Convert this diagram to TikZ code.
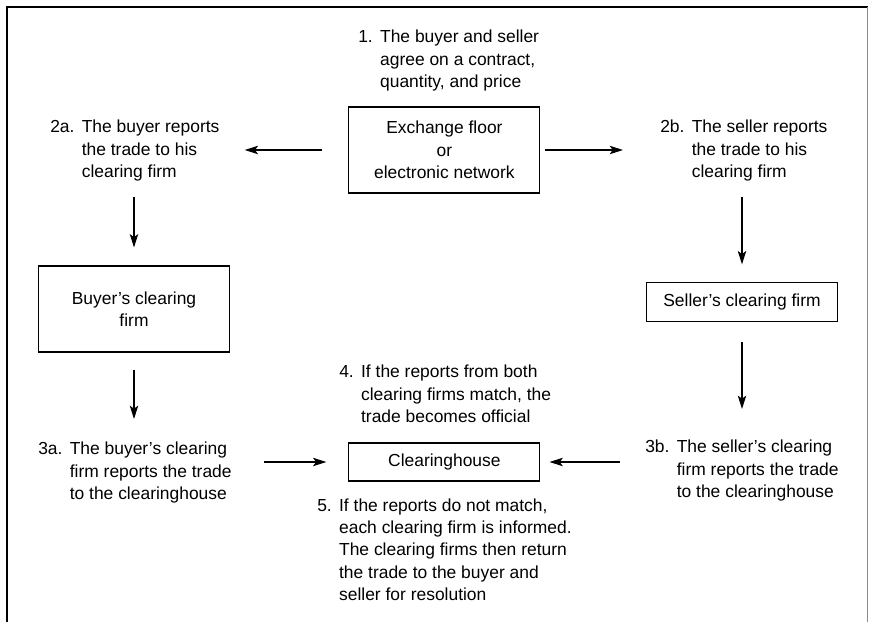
\documentclass[tikz,border=0pt]{standalone}
\usepackage{fontspec}
\setmainfont{Liberation Sans}
\usetikzlibrary{arrows.meta}

\newcommand{\numitem}[2]{\begin{tabular}[t]{@{}l@{\hspace{0.42em}}l@{}}#1 & \begin{tabular}[t]{@{}l@{}}#2\end{tabular}\end{tabular}}

\begin{document}
\begin{tikzpicture}[font=\fontsize{12.4}{16}\selectfont,
    box/.style={draw, line width=0.8pt, inner sep=0pt, align=center, minimum width=4.775cm},
    note/.style={inner sep=0pt, anchor=base west},
    arr/.style={-{Stealth[length=9.5pt, width=6pt, inset=2.2pt]}, line width=0.75pt}]
        \useasboundingbox (0,0) rectangle (21.725,15.55);
        % frame
        \draw[line width=1.3pt] (0.175,0) |- (21.69,15.375);
        \draw[line width=0.8pt, black!45] (21.69,15.375) -- (21.69,0);
        % boxes
        \node[box, minimum height=2.15cm] (exch) at (11.11,11.8) {Exchange floor\\or\\electronic network};
        \node[box, minimum height=2.15cm] (buyercf) at (3.35,7.825) {Buyer's clearing\\firm};
        \node[box, minimum height=0.975cm] (sellercf) at (18.55,7.99) {Seller's clearing firm};
        \node[box, minimum height=0.95cm] (ch) at (11.11,4.0) {Clearinghouse};
        % numbered notes
        \node[note] (n1) at (8.95,14.475) {\numitem{1.}{The buyer and seller\\agree on a contract,\\quantity, and price}};
        \node[note] (n2a) at (1.25,12.225) {\numitem{2a.}{The buyer reports\\the trade to his\\clearing firm}};
        \node[note] (n2b) at (16.5,12.225) {\numitem{2b.}{The seller reports\\the trade to his\\clearing firm}};
        \node[note] (n3a) at (0.95,4.175) {\numitem{3a.}{The buyer's clearing\\firm reports the trade\\to the clearinghouse}};
        \node[note] (n3b) at (16.125,4.225) {\numitem{3b.}{The seller's clearing\\firm reports the trade\\to the clearinghouse}};
        \node[note] (n4) at (8.475,6.1) {\numitem{4.}{If the reports from both\\clearing firms match, the\\trade becomes official}};
        \node[note] (n5) at (7.925,2.775) {\numitem{5.}{If the reports do not match,\\each clearing firm is informed.\\The clearing firms then return\\the trade to the buyer and\\seller for resolution}};
        % arrows
        \draw[arr, shorten <=0.65cm, shorten >=0.625cm] (exch.west) -- (exch.west -| n2a.east);
        \draw[arr, shorten <=0.125cm, shorten >=0.925cm] (exch.east) -- (exch.east -| n2b.west);
        \draw[arr, shorten <=0.3cm, shorten >=0.45cm] (n2a.south -| buyercf.north) -- (buyercf.north);
        \draw[arr, shorten <=0.425cm, shorten >=0.5cm] (buyercf.south) -- (buyercf.south |- n3a.north);
        \draw[arr, shorten <=0.3cm, shorten >=0.45cm] (n2b.south -| sellercf.north) -- (sellercf.north);
        \draw[arr, shorten <=0.5cm, shorten >=0.7cm] (sellercf.south) -- (sellercf.south |- n3b.north);
        \draw[arr, shorten <=0.8cm, shorten >=0.55cm] (n3a.east |- ch.west) -- (ch.west);
        \draw[arr, shorten <=0.625cm, shorten >=0.225cm] (n3b.west |- ch.east) -- (ch.east);
\end{tikzpicture}
\end{document}
